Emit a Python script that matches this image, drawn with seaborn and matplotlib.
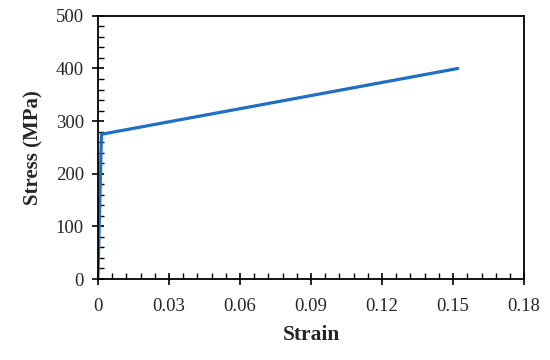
import pandas as pd
import matplotlib.pyplot as plt
import seaborn as sns
from matplotlib.ticker import MultipleLocator, FuncFormatter

# Bilinear stress-strain curve
strain = [0.0, 0.0015, 0.152]
stress = [0.0, 275.0, 400.0]

df = pd.DataFrame({'Strain': strain, 'Stress': stress})

sns.set_style('white')
plt.rcParams['font.family'] = ['Liberation Serif', 'DejaVu Serif']

fig = plt.figure(figsize=(5.5, 3.6), dpi=100)
ax = fig.add_axes([0.178, 0.225, 0.775, 0.731])

sns.lineplot(data=df, x='Strain', y='Stress', sort=False, color='#1f6fc4', linewidth=2.3, ax=ax)

ax.set_xlim(0, 0.18)
ax.set_ylim(0, 500)
ax.xaxis.set_major_locator(MultipleLocator(0.03))
ax.xaxis.set_minor_locator(MultipleLocator(0.006))
ax.yaxis.set_major_locator(MultipleLocator(100))
ax.yaxis.set_minor_locator(MultipleLocator(20))
ax.xaxis.set_major_formatter(FuncFormatter(lambda v, p: '0' if abs(v) < 1e-9 else f'{v:.2f}'))

ax.tick_params(which='major', direction='inout', length=8, width=1.2, color='black',
               labelsize=13.5, bottom=True, left=True, top=False, right=False)
ax.tick_params(axis='x', which='major', pad=10)
ax.tick_params(axis='y', which='major', pad=6)
ax.tick_params(which='minor', direction='in', length=4, width=1.0, color='black',
               bottom=True, left=True, top=False, right=False)

for s in ax.spines.values():
    s.set_color('black')
    s.set_linewidth(1.3)

ax.set_xlabel('Strain', fontsize=15.5, fontweight='bold', labelpad=7)
ax.set_ylabel('Stress (MPa)', fontsize=15, fontweight='bold', labelpad=9)

fig.savefig('out.png', dpi=100)
